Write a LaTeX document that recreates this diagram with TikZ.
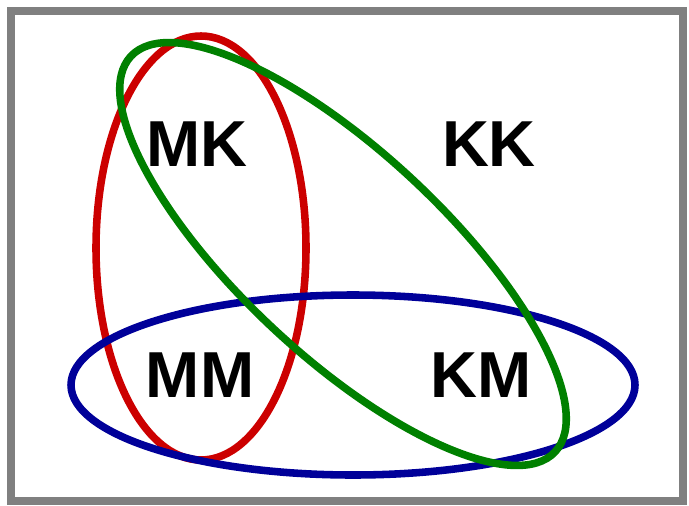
\documentclass[tikz,border=0pt]{standalone}
\usepackage{fontspec}
\setmainfont{Liberation Sans}
\definecolor{setred}{RGB}{204,0,0}
\definecolor{setblue}{RGB}{0,0,153}
\definecolor{setgreen}{RGB}{0,128,0}
\tikzset{
	setline/.style={line width=4.3pt},
	setlabel/.style={font=\fontsize{37}{37}\selectfont\bfseries}
}
\begin{document}
\begin{tikzpicture}[x=0.02cm, y=0.02cm]
\useasboundingbox (0,0) rectangle (689,505);
% border
\draw[gray, line width=4.5pt] (11,4) rectangle (683,494);

% sets
\draw[setline, setred] (201,257) ellipse [x radius=105, y radius=212];
\draw[setline, setblue] (353,120) ellipse [x radius=282, y radius=90];
\draw[setline, setgreen, rotate around={-43:(343,251)}] (343,251) ellipse [x radius=290, y radius=102];

% labels
\node[setlabel] (mk) at (197,361) {MK};
\node[setlabel] (kk) at (489,361) {KK};
\node[setlabel] (mm) at (200,130) {MM};
\node[setlabel] (km) at (481,130) {KM};

\end{tikzpicture}
\end{document}
